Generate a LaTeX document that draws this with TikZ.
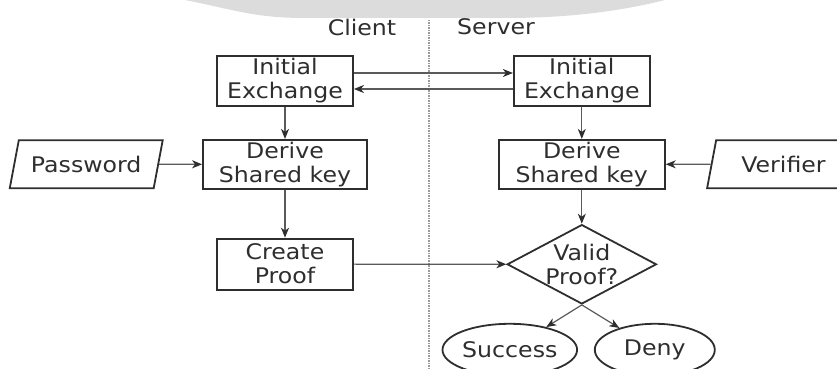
\documentclass[tikz,border=0pt]{standalone}
\usepackage{fontspec}
\setmainfont{DejaVu Sans}[FakeStretch=1.1]
\usetikzlibrary{shapes.geometric,arrows.meta,positioning}
\definecolor{pakeink}{HTML}{2E2E2E}
\definecolor{pakeline}{HTML}{5A5A5A}
\definecolor{pakesplit}{HTML}{9A9A9A}
\definecolor{pakeshade}{HTML}{DCDCDC}
\tikzset{
  txt/.style    = {text=pakeink, font=\fontsize{21.5}{24}\selectfont},
  head/.style   = {txt, inner sep=0pt},
  box/.style    = {rectangle, draw=pakeink, line width=1.8pt, align=center,
                   inner sep=0pt, txt},
  inbox/.style  = {trapezium, trapezium left angle=66, trapezium right angle=114,
                   trapezium stretches=true, draw=pakeink, line width=1.8pt,
                   inner sep=0pt, minimum width=153pt, minimum height=48pt, txt},
  dec/.style    = {diamond, draw=pakeink, line width=1.8pt, aspect=1.88, align=center,
                   inner sep=0pt, minimum width=147pt, minimum height=78pt, txt},
  endbox/.style = {ellipse, draw=pakeink, line width=1.8pt, inner sep=0pt,
                   minimum width=120pt, minimum height=52pt, txt},
  flow/.style   = {-{Stealth[length=10pt, width=8pt, inset=3pt, color=pakeink]},
                   line width=1.2pt, draw=pakeline},
  split/.style  = {densely dotted, line width=1.5pt, draw=pakesplit},
}
\begin{document}
\begin{tikzpicture}[x=1pt, y=-1pt, node distance=32pt]
\useasboundingbox (0,0) rectangle (837,369);
% grey band along the top edge
\fill[pakeshade] (185,0) .. controls (235,10) and (255,18) .. (305,18) -- (505,18)
  .. controls (575,18) and (625,10) .. (665,0) -- cycle;
\draw[split] (429,20) -- (429,369);
\node[head] (cl) at (362,27) {Client};
\node[head] (sv) at (496,27) {Server};

\node[box, minimum width=136pt, minimum height=50pt] (ie1) at (285,81) {Initial\\Exchange};
\node[box, minimum width=164pt, minimum height=49pt, below=of ie1] (dk1) {Derive\\Shared key};
\node[box, minimum width=136pt, minimum height=51pt, below=48pt of dk1] (cp) {Create\\Proof};
\node[inbox, left=43pt of dk1] (pw) {Password};
\node[box, minimum width=136pt, minimum height=50pt, right=159pt of ie1] (ie2) {Initial\\Exchange};
\node[box, minimum width=166pt, minimum height=49pt, below=of ie2] (dk2) {Derive\\Shared key};
\node[inbox, inner xsep=13pt, right=45pt of dk2] (vf) {Verifier};
\node[dec, below=34pt of dk2] (vp) {Valid\\Proof?};
\node[endbox, below=18pt of vp, xshift=-72pt] (ok) {Success};
\node[endbox, below=18pt of vp, xshift=73pt] (no) {Deny};

\draw[flow] ([yshift=8pt]ie1.east) -- ([yshift=8pt]ie2.west);
\draw[flow] ([yshift=-8pt]ie2.west) -- ([yshift=-8pt]ie1.east);
\draw[flow] (ie1) -- (dk1); \draw[flow] (dk1) -- (cp); \draw[flow] (pw) -- (dk1);
\draw[flow] (ie2) -- (dk2); \draw[flow] (vf) -- (dk2); \draw[flow] (dk2) -- (vp);
\draw[flow] (cp) -- (vp);
\draw[flow] (vp.south) -- (ok); \draw[flow] (vp.south) -- (no);
\end{tikzpicture}
\end{document}
